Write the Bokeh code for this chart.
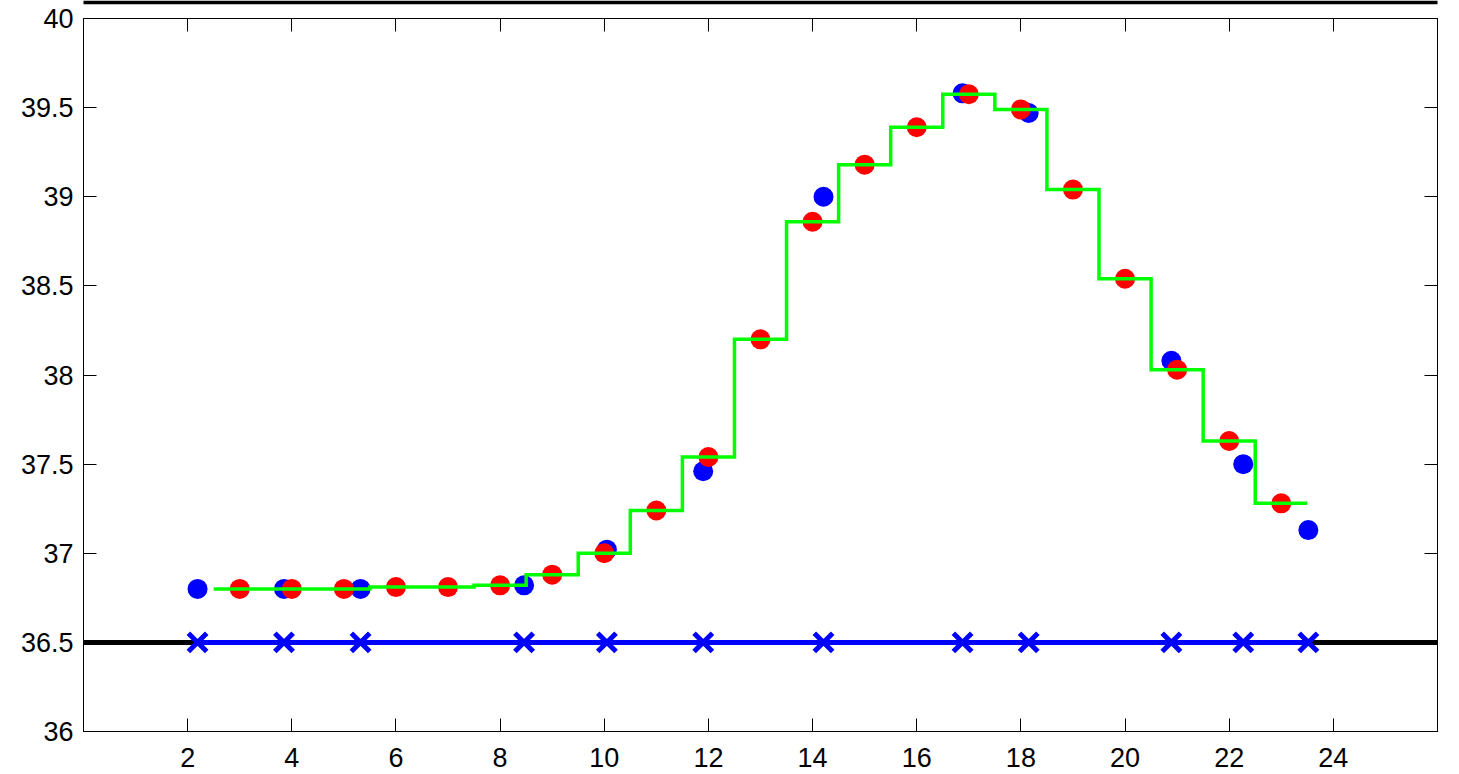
import numpy as np
from bokeh.plotting import figure
from bokeh.models import Range1d, LinearAxis, FixedTicker
from bokeh.embed import file_html
from bokeh.resources import INLINE

# ---- data ----
red_x = list(range(3, 24))
red_y = [36.80, 36.80, 36.80, 36.81, 36.81, 36.82, 36.88, 37.00, 37.24, 37.54,
         38.20, 38.86, 39.18, 39.39, 39.575, 39.49, 39.04, 38.54, 38.03, 37.63, 37.28]
blue_x = [2.19, 3.85, 5.32, 8.46, 10.05, 11.90, 14.21, 16.88, 18.15, 20.89, 22.27, 23.52]
blue_y = [36.80, 36.80, 36.80, 36.82, 37.02, 37.46, 39.00, 39.58, 39.47, 38.08, 37.50, 37.13]
baseline = 36.5
x_ticks = [2, 4, 6, 8, 10, 12, 14, 16, 18, 20, 22, 24]
y_ticks = [36, 36.5, 37, 37.5, 38, 38.5, 39, 39.5, 40]
x_lim = (0, 26)
y_lim = (36, 40)

FONT = "Liberation Sans"

p = figure(frame_width=1354, frame_height=713,
           x_range=Range1d(*x_lim), y_range=Range1d(*y_lim),
           output_backend="svg", toolbar_location=None,
           min_border_left=83, min_border_right=13, min_border_top=18, min_border_bottom=42,
           x_axis_location=None, y_axis_location=None)
p.grid.visible = False
p.outline_line_color = "black"
p.outline_line_width = 1
p.background_fill_color = "white"
p.border_fill_color = "white"


def style_axis(ax, labels=True):
    ax.axis_line_color = "black"
    ax.axis_line_width = 1
    ax.major_tick_in = 13
    ax.major_tick_out = 0
    ax.major_tick_line_color = "black"
    ax.major_tick_line_width = 1
    ax.minor_tick_line_color = None
    if labels:
        ax.major_label_text_font = FONT
        ax.major_label_text_font_size = "27px"
        ax.major_label_text_color = "black"
    else:
        ax.major_label_text_font_size = "1px"
        ax.major_label_text_color = None
        ax.major_label_standoff = 0


xb = LinearAxis(ticker=FixedTicker(ticks=x_ticks))
style_axis(xb)
xb.major_label_standoff = 16
p.add_layout(xb, "below")

# top axis: inward ticks only
xt = LinearAxis(ticker=FixedTicker(ticks=x_ticks))
style_axis(xt, labels=False)
p.add_layout(xt, "above")

# invisible spacer axis that pushes the edge line to the top of the canvas
spacer = LinearAxis(ticker=FixedTicker(ticks=x_ticks))
spacer.axis_line_color = None
spacer.major_tick_line_color = None
spacer.minor_tick_line_color = None
spacer.major_tick_in = 0
spacer.major_tick_out = 16
spacer.major_label_text_font_size = "1px"
spacer.major_label_text_color = None
spacer.major_label_standoff = 0
p.add_layout(spacer, "above")

# thick black edge line at the very top
edge = LinearAxis(ticker=FixedTicker(ticks=x_ticks), bounds=(-1.6, 26.4))
edge.axis_line_color = "black"
edge.axis_line_width = 3.5
edge.major_tick_line_color = None
edge.minor_tick_line_color = None
edge.major_tick_in = 0
edge.major_tick_out = 0
edge.major_label_text_font_size = "1px"
edge.major_label_text_color = None
edge.major_label_standoff = 0
p.add_layout(edge, "above")

yl = LinearAxis(ticker=FixedTicker(ticks=y_ticks))
style_axis(yl)
yl.major_label_standoff = 10
p.add_layout(yl, "left")

yr = LinearAxis(ticker=FixedTicker(ticks=y_ticks))
style_axis(yr, labels=False)
p.add_layout(yr, "right")

# black reference line across the axes
p.line(list(x_lim), [baseline, baseline], line_color="black", line_width=5)

# blue line with x markers at the baseline
bx = blue_x
p.line(bx, [baseline] * len(bx), line_color="#0000ff", line_width=5)
p.scatter(bx, [baseline] * len(bx), marker="x", size=26, line_color="#0000ff", line_width=5)

# blue circles
p.scatter(blue_x, blue_y, marker="circle", size=20, fill_color="#0000ff", line_color=None)
# red circles
p.scatter(red_x, red_y, marker="circle", size=20, fill_color="#ff0000", line_color=None)

# green step line centred on red points
rx = np.array(red_x, dtype=float)
ry = np.array(red_y, dtype=float)
sx = np.column_stack([rx - 0.5, rx + 0.5]).ravel()
sy = np.column_stack([ry, ry]).ravel()
p.line(sx, sy, line_color="#00ff00", line_width=3.5, line_join="miter")

open("out.html", "w").write(file_html(p, INLINE))
